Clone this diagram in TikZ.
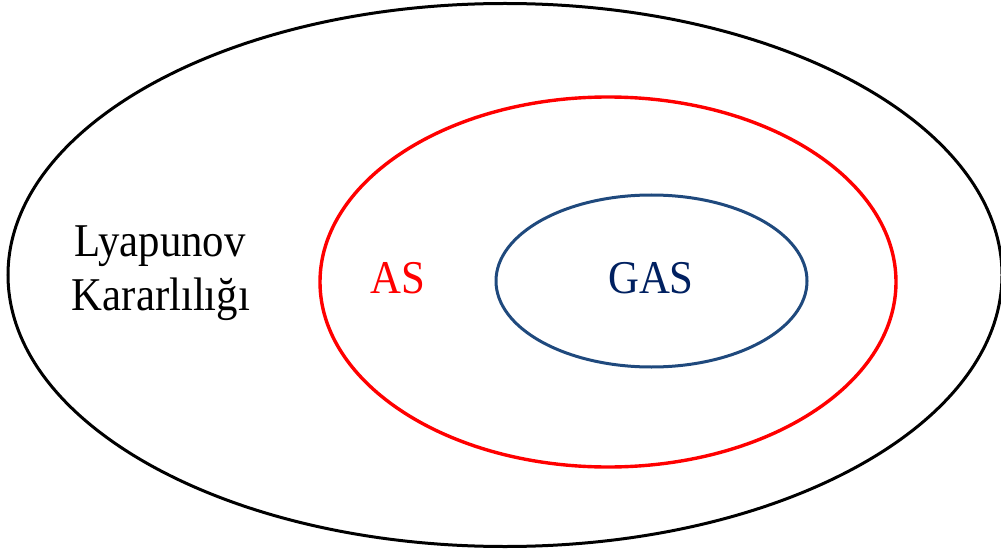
\documentclass[tikz,border=0pt]{standalone}
\usepackage{fontspec}
\setmainfont[FakeStretch=0.91]{Liberation Serif}
\usetikzlibrary{shapes.geometric}
\definecolor{asred}{RGB}{255,0,0}
\definecolor{gasblue}{RGB}{31,73,125}
\definecolor{gastext}{RGB}{0,32,96}
\tikzset{
  setring/.style={draw, ellipse, inner sep=0pt, outer sep=0pt},
  lbl/.style={anchor=base, inner sep=0pt, font=\fontsize{47}{54}\selectfont}
}
\begin{document}
\begin{tikzpicture}[x=1pt, y=-1pt]
\useasboundingbox (0,0) rectangle (1001,556);
\node[setring, line width=3pt, black, minimum width=994pt, minimum height=543pt] (lyap) at (505,275) {};
\node[setring, line width=3.4pt, asred, minimum width=576pt, minimum height=370pt] (as) at (608,282) {};
\node[setring, line width=3pt, gasblue, minimum width=311pt, minimum height=172pt] (gas) at (651.5,281) {};
\node[lbl] (t1) at (160,256) {Lyapunov};
\node[lbl] (t2) at (161,310) {Kararlılığı};
\node[lbl, text=asred] (tas) at (398,293) {AS};
\node[lbl, text=gastext] (tgas) at (651,293) {GAS};
\end{tikzpicture}
\end{document}
